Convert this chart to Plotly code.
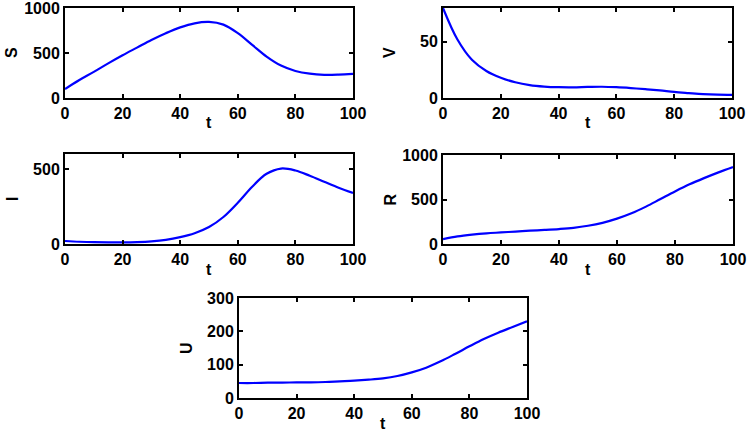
import plotly.graph_objects as go

W, H = 749, 441

t = [0, 5, 10, 15, 20, 25, 30, 35, 40, 45, 50, 55, 60, 65, 70, 75, 80, 85, 90, 95, 100]
S = [100, 200, 290, 385, 475, 560, 645, 720, 785, 830, 845, 815, 720, 590, 460, 360, 300, 270, 258, 260, 268]
V = [80, 52, 34, 24, 18, 14, 11.5, 10.2, 9.6, 9.5, 9.8, 10, 9.6, 8.8, 7.8, 6.7, 5.4, 4.4, 3.5, 3.0, 2.8]
I = [20, 15, 12, 11, 11, 13, 18, 28, 46, 72, 113, 180, 275, 382, 468, 503, 490, 455, 415, 375, 340]
R = [55, 85, 105, 120, 130, 140, 150, 158, 168, 182, 205, 238, 285, 345, 420, 505, 590, 670, 740, 805, 865]
U = [45, 45, 46, 46, 47, 47, 48, 50, 52, 55, 59, 66, 77, 91, 110, 132, 155, 177, 196, 213, 230]

x_ticks = [0, 20, 40, 60, 80, 100]
panels = [
    # name, data, yrange, yticks, (left, right, top, bottom) px
    ("S", S, [0, 1000], [0, 500, 1000], (65, 353, 8, 98)),
    ("V", V, [0, 80], [0, 50], (443, 732, 8, 98)),
    ("I", I, [0, 600], [0, 500], (65, 353, 154, 244)),
    ("R", R, [0, 1000], [0, 500, 1000], (443, 733, 155, 244)),
    ("U", U, [0, 300], [0, 100, 200, 300], (239, 527, 298, 398)),
]

FAM = "Liberation Sans, Arial, sans-serif"
font = dict(family=FAM, size=16, color="black")
fig = go.Figure()
annotations = []
for k, (name, data, yr, yt, (l, r, tp, b)) in enumerate(panels):
    idx = "" if k == 0 else str(k + 1)
    fig.add_trace(go.Scatter(x=t, y=data, mode="lines", line=dict(color="#0000ff", width=2.2, shape="spline"),
                             xaxis="x" + idx, yaxis="y" + idx, showlegend=False, hoverinfo="skip"))
    common = dict(showline=True, linecolor="black", linewidth=2, mirror="ticks", ticks="inside",
                  ticklen=4, tickwidth=1.5, tickcolor="black", showgrid=False, zeroline=False,
                  automargin=False, ticklabeloverflow="allow",
                  tickfont=dict(family=FAM, size=16, color="black", weight="bold"))
    fig.update_layout(**{
        "xaxis" + idx: dict(domain=[l / W, r / W], range=[0, 100], tickvals=x_ticks,
                            anchor="y" + idx, ticklabelstandoff=0, **common),
        "yaxis" + idx: dict(domain=[1 - b / H, 1 - tp / H], range=yr, tickvals=yt,
                            anchor="x" + idx, ticklabelstandoff=0, **common),
    })
    cx = (l + r) / 2
    annotations.append(dict(text="<b>t</b>", x=cx / W, y=1 - (b + 25) / H, xref="paper", yref="paper",
                            showarrow=False, font=font, xanchor="center", yanchor="middle"))
    annotations.append(dict(text="<b>%s</b>" % name, x=(l - 53) / W, y=1 - ((tp + b) / 2) / H,
                            xref="paper", yref="paper", showarrow=False, font=font, textangle=-90,
                            xanchor="center", yanchor="middle"))

fig.update_layout(template="none", width=W, height=H,
                  margin=dict(l=0, r=0, t=0, b=0, pad=0, autoexpand=False),
                  paper_bgcolor="white", plot_bgcolor="white", annotations=annotations, font=font)
fig.write_html("out.html", config={"displayModeBar": False},
               post_script="document.body.style.margin='0';document.body.style.padding='0';"
                           "document.body.style.overflow='hidden';")
